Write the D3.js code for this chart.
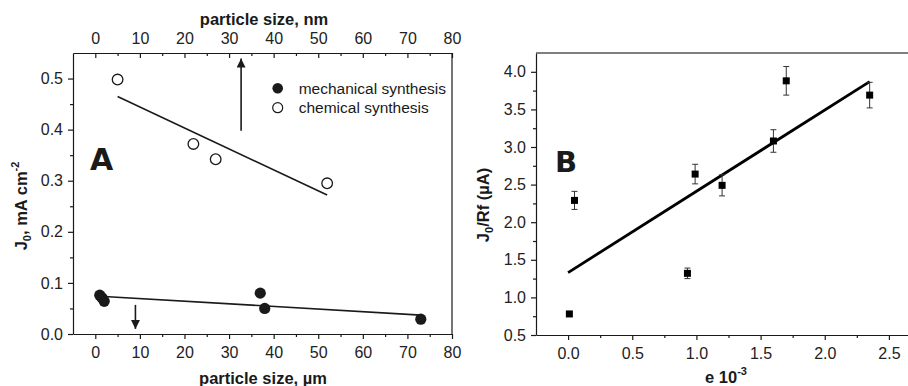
<!DOCTYPE html>
<html>
<head>
<meta charset="utf-8">
<script src="https://cdn.jsdelivr.net/npm/d3@7/dist/d3.min.js"></script>
<style>
  html, body { margin: 0; padding: 0; background: #fff; }
  svg { display: block; font-family: Arial, "Liberation Sans", sans-serif; }
  .tick text { font-size: 16px; fill: #222; font-family: Arial, "Liberation Sans", sans-serif; }
</style>
</head>
<body>
<svg id="chart" width="908" height="386"></svg>
<script>
// ---------- Data: panel A ----------
const chemSizeNm   = [5, 22, 27, 52];
const chemJ0       = [0.498, 0.372, 0.342, 0.295];
const chemFitX     = [5, 52];
const chemFitY     = [0.465, 0.272];

const mechSizeUm   = [1.0, 1.5, 2.0, 37, 38, 73];
const mechJ0       = [0.076, 0.071, 0.064, 0.080, 0.050, 0.029];
const mechFitX     = [1, 73];
const mechFitY     = [0.074, 0.037];

const axisATicks   = [0, 10, 20, 30, 40, 50, 60, 70, 80];
const axisAMinor   = [5, 15, 25, 35, 45, 55, 65, 75];
const yATicks      = [0.0, 0.1, 0.2, 0.3, 0.4, 0.5];
const yAMinor      = [0.05, 0.15, 0.25, 0.35, 0.45];
const legendLabels = ["mechanical synthesis", "chemical synthesis"];

// ---------- Data: panel B ----------
const eVals        = [0.01, 0.05, 0.93, 0.99, 1.20, 1.60, 1.70, 2.35];
const jrVals       = [0.78, 2.29, 1.32, 2.64, 2.49, 3.08, 3.88, 3.69];
const jrErr        = [0.00, 0.12, 0.07, 0.13, 0.14, 0.15, 0.19, 0.17];
const fitBX        = [0.0, 2.35];
const fitBY        = [1.33, 3.87];
const xBTicks      = [0.0, 0.5, 1.0, 1.5, 2.0, 2.5];
const xBMinor      = [0.25, 0.75, 1.25, 1.75, 2.25];
const yBTicks      = [0.5, 1.0, 1.5, 2.0, 2.5, 3.0, 3.5, 4.0];
const yBMinor      = [0.75, 1.25, 1.75, 2.25, 2.75, 3.25, 3.75];

const svg = d3.select("#chart");
const ink = "#1a1a1a";

// arrow marker
const defs = svg.append("defs");
defs.append("marker").attr("id", "arrowhead")
  .attr("viewBox", "0 0 10 10").attr("refX", 10).attr("refY", 5)
  .attr("markerUnits", "userSpaceOnUse")
  .attr("markerWidth", 12).attr("markerHeight", 9).attr("orient", "auto")
  .append("path").attr("d", "M0,0 L10,5 L0,10 Z").attr("fill", ink);

function styleAxis(g) {
  g.attr("font-family", null).attr("font-size", null);
  g.selectAll("path.domain").attr("stroke", ink).attr("stroke-width", 1.2);
  g.selectAll(".tick line").attr("stroke", ink).attr("stroke-width", 1.2);
}

// ================= Panel A =================
const xA = d3.scaleLinear().domain([-5, 80]).range([73, 452]);
const yA = d3.scaleLinear().domain([0, 0.55]).range([334, 53]);

const gA = svg.append("g");

// bottom axis (µm)
gA.append("g").attr("transform", "translate(0,334)")
  .call(d3.axisBottom(xA).tickValues(axisATicks).tickSize(5).tickSizeOuter(0).tickPadding(8).tickFormat(d3.format("d")))
  .call(styleAxis);
gA.append("g").attr("transform", "translate(0,334)")
  .call(d3.axisBottom(xA).tickValues(axisAMinor).tickSize(3).tickSizeOuter(0).tickFormat(""))
  .call(styleAxis).select("path.domain").remove();

// top axis (nm), ticks pointing inward
gA.append("g").attr("transform", "translate(0,53)")
  .call(d3.axisTop(xA).tickValues(axisATicks).tickSize(-5).tickSizeOuter(0).tickPadding(9).tickFormat(d3.format("d")))
  .call(styleAxis);
gA.append("g").attr("transform", "translate(0,53)")
  .call(d3.axisTop(xA).tickValues(axisAMinor).tickSize(-3).tickSizeOuter(0).tickFormat(""))
  .call(styleAxis).select("path.domain").remove();

// left axis
gA.append("g").attr("transform", "translate(73,0)")
  .call(d3.axisLeft(yA).tickValues(yATicks).tickSize(5).tickSizeOuter(0).tickPadding(5).tickFormat(d3.format(".1f")))
  .call(styleAxis);
gA.append("g").attr("transform", "translate(73,0)")
  .call(d3.axisLeft(yA).tickValues(yAMinor).tickSize(3).tickSizeOuter(0).tickFormat(""))
  .call(styleAxis).select("path.domain").remove();

// right frame line
gA.append("line").attr("x1", xA(80)).attr("x2", xA(80)).attr("y1", yA(0.55)).attr("y2", yA(0))
  .attr("stroke", ink).attr("stroke-width", 1.2);

// fits
const lineA = d3.line().x(d => xA(d[0])).y(d => yA(d[1]));
gA.append("path").datum(d3.zip(chemFitX, chemFitY)).attr("d", lineA)
  .attr("fill", "none").attr("stroke", ink).attr("stroke-width", 1.6);
gA.append("path").datum(d3.zip(mechFitX, mechFitY)).attr("d", lineA)
  .attr("fill", "none").attr("stroke", ink).attr("stroke-width", 1.6);

// points
gA.selectAll("circle.chem").data(d3.zip(chemSizeNm, chemJ0)).join("circle")
  .attr("class", "chem").attr("cx", d => xA(d[0])).attr("cy", d => yA(d[1])).attr("r", 5.3)
  .attr("fill", "#fff").attr("stroke", ink).attr("stroke-width", 1.3);
gA.selectAll("circle.mech").data(d3.zip(mechSizeUm, mechJ0)).join("circle")
  .attr("class", "mech").attr("cx", d => xA(d[0])).attr("cy", d => yA(d[1])).attr("r", 5.6)
  .attr("fill", ink);

// arrows
gA.append("line").attr("x1", xA(32.7)).attr("x2", xA(32.7)).attr("y1", yA(0.398)).attr("y2", yA(0.539))
  .attr("stroke", ink).attr("stroke-width", 1.6).attr("marker-end", "url(#arrowhead)");
gA.append("line").attr("x1", xA(9)).attr("x2", xA(9)).attr("y1", yA(0.057)).attr("y2", yA(0.010))
  .attr("stroke", ink).attr("stroke-width", 1.6).attr("marker-end", "url(#arrowhead)");

// legend
const legA = gA.append("g").attr("transform", "translate(277.7,88.3)");
legA.append("circle").attr("cx", 0).attr("cy", 0).attr("r", 5.3).attr("fill", ink);
legA.append("circle").attr("cx", 0).attr("cy", 19.4).attr("r", 5).attr("fill", "#fff").attr("stroke", ink).attr("stroke-width", 1.2);
legA.selectAll("text").data(legendLabels).join("text")
  .attr("x", 21).attr("y", (d, i) => i * 19.4 + 5.5)
  .attr("font-size", 15.5).attr("fill", ink).text(d => d);

// panel letter
gA.append("text").attr("x", 90).attr("y", 170).attr("font-size", 30).attr("font-weight", 900)
  .attr("fill", ink).attr("font-family", "Arial Black, 'DejaVu Sans', Arial, sans-serif").text("A");

// axis titles
gA.append("text").attr("x", 264).attr("y", 25).attr("text-anchor", "middle")
  .attr("font-size", 16.5).attr("font-weight", "bold").attr("fill", ink).text("particle size, nm");
gA.append("text").attr("x", 263).attr("y", 384).attr("text-anchor", "middle")
  .attr("font-size", 16.5).attr("font-weight", "bold").attr("fill", ink).text("particle size, µm");
const ylA = gA.append("text").attr("transform", "translate(27,206) rotate(-90)")
  .attr("text-anchor", "middle").attr("font-size", 16.5).attr("font-weight", "bold").attr("fill", ink);
ylA.append("tspan").text("J");
ylA.append("tspan").attr("font-size", 11).attr("dy", 4).text("0");
ylA.append("tspan").attr("dy", -4).text(", mA cm");
ylA.append("tspan").attr("font-size", 11).attr("dy", -8).text("-2");

// ================= Panel B =================
const xB = d3.scaleLinear().domain([-0.25, 2.75]).range([536, 921]);
const yB = d3.scaleLinear().domain([0.5, 4.25]).range([335, 53]);
const gB = svg.append("g");

gB.append("g").attr("transform", "translate(0,335)")
  .call(d3.axisBottom(xB).tickValues(xBTicks).tickSize(5).tickSizeOuter(0).tickPadding(8).tickFormat(d3.format(".1f")))
  .call(styleAxis);
gB.append("g").attr("transform", "translate(0,335)")
  .call(d3.axisBottom(xB).tickValues(xBMinor).tickSize(3).tickSizeOuter(0).tickFormat(""))
  .call(styleAxis).select("path.domain").remove();
gB.append("g").attr("transform", "translate(536,0)")
  .call(d3.axisLeft(yB).tickValues(yBTicks).tickSize(5).tickSizeOuter(0).tickPadding(5).tickFormat(d3.format(".1f")))
  .call(styleAxis);
gB.append("g").attr("transform", "translate(536,0)")
  .call(d3.axisLeft(yB).tickValues(yBMinor).tickSize(3).tickSizeOuter(0).tickFormat(""))
  .call(styleAxis).select("path.domain").remove();
// top frame line (grey)
gB.append("line").attr("x1", xB(-0.25)).attr("x2", xB(2.75)).attr("y1", yB(4.25)).attr("y2", yB(4.25))
  .attr("stroke", "#555").attr("stroke-width", 1.4);

// fit
const lineB = d3.line().x(d => xB(d[0])).y(d => yB(d[1]));
gB.append("path").datum(d3.zip(fitBX, fitBY)).attr("d", lineB)
  .attr("fill", "none").attr("stroke", "#000").attr("stroke-width", 2.8);

// error bars
const ptsB = eVals.map((e, i) => ({ x: e, y: jrVals[i], err: jrErr[i] }));
const eb = gB.selectAll("g.eb").data(ptsB.filter(d => d.err > 0)).join("g").attr("class", "eb");
eb.append("line").attr("x1", d => xB(d.x)).attr("x2", d => xB(d.x))
  .attr("y1", d => yB(d.y - d.err)).attr("y2", d => yB(d.y + d.err)).attr("stroke", "#333").attr("stroke-width", 1);
eb.append("line").attr("x1", d => xB(d.x) - 3).attr("x2", d => xB(d.x) + 3)
  .attr("y1", d => yB(d.y + d.err)).attr("y2", d => yB(d.y + d.err)).attr("stroke", "#333").attr("stroke-width", 1);
eb.append("line").attr("x1", d => xB(d.x) - 3).attr("x2", d => xB(d.x) + 3)
  .attr("y1", d => yB(d.y - d.err)).attr("y2", d => yB(d.y - d.err)).attr("stroke", "#333").attr("stroke-width", 1);
gB.selectAll("rect.pt").data(ptsB).join("rect").attr("class", "pt")
  .attr("x", d => xB(d.x) - 3.5).attr("y", d => yB(d.y) - 3.5).attr("width", 7).attr("height", 7).attr("fill", "#000");

// panel letter
gB.append("text").attr("x", 555).attr("y", 172).attr("font-size", 29).attr("font-weight", 900)
  .attr("fill", ink).attr("font-family", "Arial Black, 'DejaVu Sans', Arial, sans-serif").text("B");

// titles
const xlB = gB.append("text").attr("x", 726).attr("y", 383).attr("text-anchor", "middle")
  .attr("font-size", 16.5).attr("font-weight", "bold").attr("fill", ink);
xlB.append("tspan").text("e 10");
xlB.append("tspan").attr("font-size", 11).attr("dy", -8).text("-3");
const ylB = gB.append("text").attr("transform", "translate(489,205) rotate(-90)")
  .attr("text-anchor", "middle").attr("font-size", 16.5).attr("font-weight", "bold").attr("fill", ink);
ylB.append("tspan").text("J");
ylB.append("tspan").attr("font-size", 11).attr("dy", 4).text("0");
ylB.append("tspan").attr("dy", -4).text("/Rf (µA)");
</script>
</body>
</html>
